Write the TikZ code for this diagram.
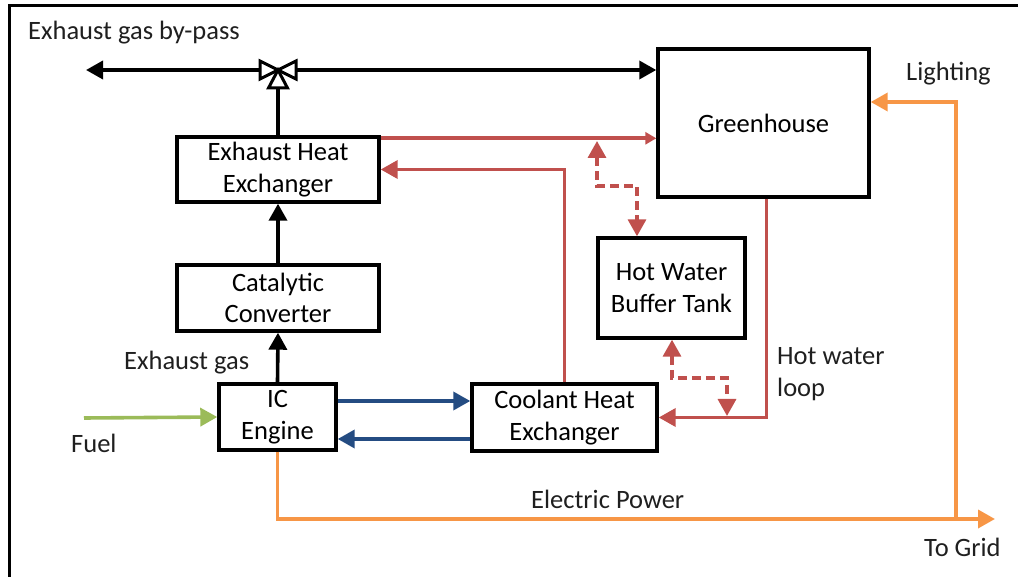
\documentclass[tikz,border=0pt]{standalone}
\usepackage{fontspec}
\setmainfont{Carlito}
\usetikzlibrary{arrows.meta,calc}
\definecolor{cred}{RGB}{192,80,77}
\definecolor{cblue}{RGB}{36,76,130}
\definecolor{cgreen}{RGB}{155,187,89}
\definecolor{corange}{RGB}{247,150,70}
\newcommand\lblfont{\fontsize{26.5}{31.5}\selectfont}
\begin{document}
\begin{tikzpicture}[x=1pt,y=-1pt,
  box/.style={draw, line width=3.4pt, align=center, inner sep=0pt, font=\lblfont},
  lbl/.style={font=\lblfont, inner sep=0pt, text=black!88},
  blk/.style={line width=3.6pt, black},
  redl/.style={line width=3.6pt, cred},
  bluel/.style={line width=3.6pt, cblue},
  greenl/.style={line width=3.6pt, cgreen},
  orl/.style={line width=3.6pt, corange},
  dashr/.style={line width=3.4pt, cred, dash pattern=on 9pt off 5pt},
  arr/.style={-{Triangle[length=17pt,width=18pt]}},
  darr/.style={{Triangle[length=17pt,width=18pt]}-{Triangle[length=17pt,width=18pt]}},
  valvestyle/.style={line width=3pt, draw=black, fill=white, line join=miter}
]
\useasboundingbox (0,0) rectangle (1018,577);
% frame
\draw[line width=3pt] (9,577) -- (9,6) -- (1018,6);

% boxes
\node[box, minimum width=202pt, minimum height=65pt] (ehe) at (278,169.5) {Exhaust Heat\\Exchanger};
\node[box, minimum width=202pt, minimum height=66pt] (cat) at (278,298) {Catalytic\\Converter};
\node[box, minimum width=117pt, minimum height=66pt] (ice) at (277.5,417) {IC\\Engine};
\node[box, minimum width=185pt, minimum height=67pt] (che) at (564.5,417.5) {Coolant Heat\\Exchanger};
\node[box, minimum width=211pt, minimum height=148pt] (gh) at (763.5,123) {Greenhouse};
\node[box, minimum width=147pt, minimum height=100pt] (hwt) at (671.5,288) {Hot Water\\Buffer Tank};

% labels
\node[lbl, anchor=base west] (lbp) at (28,40) {Exhaust gas by-pass};
\node[lbl, anchor=base west] (llight) at (906,81) {Lighting};
\node[lbl, anchor=base west] (lexh) at (124,370) {Exhaust gas};
\node[lbl, anchor=base west] (lfuel) at (71,453) {Fuel};
\node[lbl, anchor=base west] (lep) at (531,508) {Electric Power};
\node[lbl, anchor=base west] (lgrid) at (924,556) {To Grid};
\node[lbl, anchor=base west] (lhw1) at (777,365) {Hot water};
\node[lbl, anchor=base west] (lhw2) at (777,396) {loop};

% coordinates
\coordinate (v) at (278,70);
\coordinate (bp) at (86,70);
\coordinate (vb) at (278,88);
\coordinate (fuel) at (84,418);
\coordinate (grid) at (995,519);
\coordinate (oc) at (956,519);
\coordinate (lt) at (956,102);
\coordinate (r1) at ([yshift=-3pt]ehe.north east);
\coordinate (d1) at (597,141);
\coordinate (d1b) at (597,186);
\coordinate (d1c) at (637,186);
\coordinate (d2b) at (672,378);
\coordinate (d2c) at (727,378);
\coordinate (d2d) at (727,416);

% black exhaust path
\draw[blk, arr] ([xshift=-18pt]v) -- (bp);
\draw[blk, arr] ([xshift=18pt]v) -- (gh.west |- v);
\draw[blk] (ehe.north) -- (vb);
\draw[blk, arr] (cat.north) -- (ehe.south);
\draw[blk, arr] (ice.north) -- (cat.south);
% valve
\draw[valvestyle] (260,61) -- (260,79) -- (278,70) -- cycle;
\draw[valvestyle] (296,61) -- (296,79) -- (278,70) -- cycle;
\draw[valvestyle] (268.5,88) -- (287.5,88) -- (278,70) -- cycle;

% fuel
\draw[greenl, arr] (fuel) -- (ice.west);
% coolant loop
\draw[bluel, arr] ([yshift=16pt]ice.east) -- ([yshift=16pt]ice.east -| che.west);
\draw[bluel, arr] ([yshift=-22pt]ice.east -| che.west) -- ([yshift=-22pt]ice.east);

% hot water
\draw[redl, -{Triangle[length=11pt,width=12pt]}] (r1) -- (r1 -| gh.west);
\draw[redl, arr] (che.north) |- (ehe.east);
\draw[redl, arr] ([xshift=3pt]gh.south) |- (che.east);
\draw[dashr, darr] (d1) -- (d1b) -- (d1c) -- (d1c |- hwt.north);
\draw[dashr, darr] (d2b |- hwt.south) -- (d2b) -- (d2c) -- (d2d);

% electric
\draw[orl, arr] (ice.south) |- (grid);
\draw[orl, arr] (oc) -- (lt) -- (gh.east |- lt);
\end{tikzpicture}
\end{document}
